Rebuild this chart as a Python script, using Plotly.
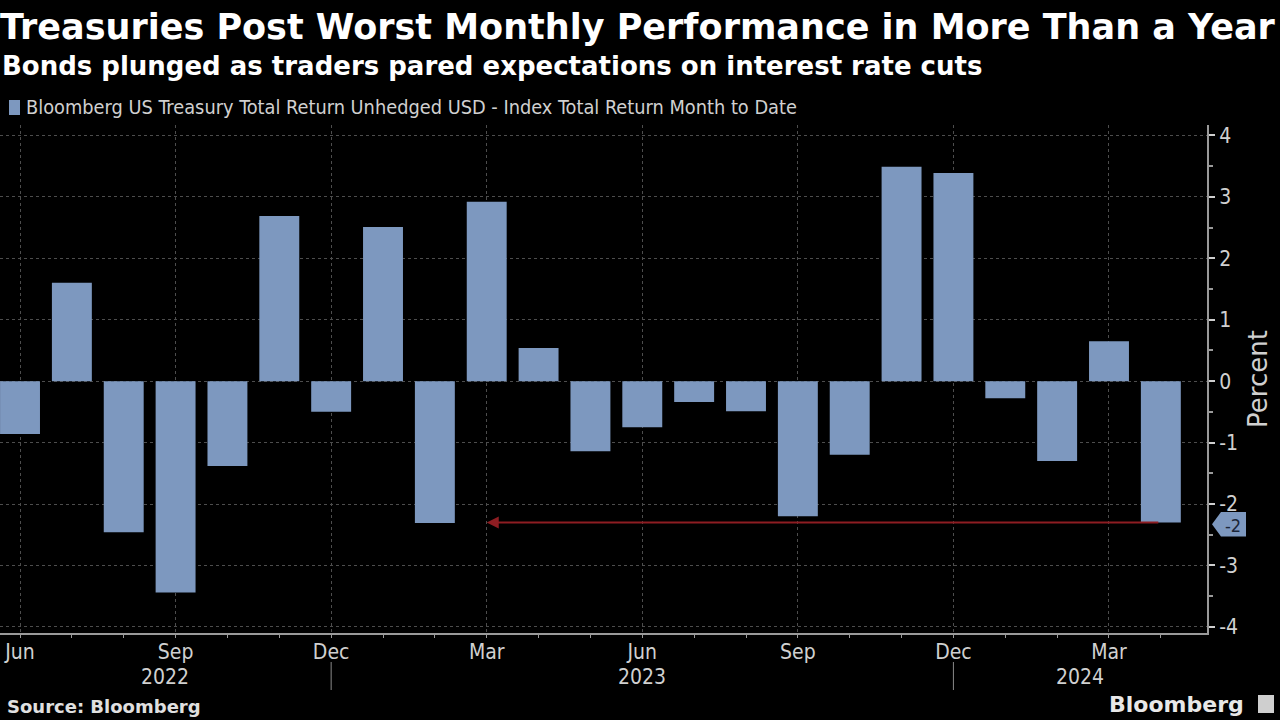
import plotly.graph_objects as go

months = ["Jun 2022", "Jul 2022", "Aug 2022", "Sep 2022", "Oct 2022", "Nov 2022", "Dec 2022",
          "Jan 2023", "Feb 2023", "Mar 2023", "Apr 2023", "May 2023", "Jun 2023", "Jul 2023",
          "Aug 2023", "Sep 2023", "Oct 2023", "Nov 2023", "Dec 2023", "Jan 2024", "Feb 2024",
          "Mar 2024", "Apr 2024"]
returns = [-0.86, 1.60, -2.46, -3.44, -1.38, 2.69, -0.50, 2.51, -2.31, 2.92, 0.54, -1.14,
           -0.75, -0.34, -0.49, -2.20, -1.20, 3.49, 3.39, -0.28, -1.30, 0.65, -2.30]
quarter_labels = ["Jun", "Sep", "Dec", "Mar", "Jun", "Sep", "Dec", "Mar"]
quarter_idx = [0, 3, 6, 9, 12, 15, 18, 21]
year_labels = ["2022", "2023", "2024"]
year_pos = [2.8, 12.0, 20.45]
year_sep = [6, 18]
y_ticks = [-4, -3, -2, -1, 0, 1, 2, 3, 4]

BAR = "#7d98bf"
TXT = "#d0d0d0"
GRID = "#4d4d4d"
FONT = "DejaVu Sans"
CFONT = "DejaVu Sans Condensed"

x = list(range(len(months)))
fig = go.Figure()
fig.add_trace(go.Bar(x=x, y=returns, marker=dict(color=BAR, line=dict(width=0)),
                     width=0.77, hovertext=months, showlegend=False))

fig.update_layout(
    width=1280, height=720,
    paper_bgcolor="black", plot_bgcolor="black",
    margin=dict(l=0, r=73, t=125, b=87),
    font=dict(family=CFONT, color=TXT, size=19),
    xaxis=dict(range=[-0.386, 22.89], tickvals=quarter_idx, ticktext=quarter_labels,
               showgrid=True, gridcolor=GRID, griddash="dot", gridwidth=1,
               showline=True, linecolor="#9a9a9a", linewidth=2,
               ticks="outside", ticklen=3, tickcolor="#9a9a9a",
               ticklabelstandoff=-4,
               minor=dict(tick0=0, dtick=1, ticks="outside", ticklen=3, tickcolor="#9a9a9a",
                          showgrid=False),
               tickfont=dict(family=CFONT, size=21, color=TXT), zeroline=False),
    yaxis=dict(range=[-4.1, 4.17], side="right", tickvals=y_ticks,
               ticktext=[str(v) for v in y_ticks],
               showgrid=True, gridcolor=GRID, griddash="dot", gridwidth=1,
               showline=True, linecolor="#9a9a9a", linewidth=2,
               ticks="outside", ticklen=6, tickcolor="#cfcfcf", tickwidth=2,
               minor=dict(tick0=0.5, dtick=1, ticks="outside", ticklen=4, tickcolor="#9a9a9a",
                          showgrid=False),
               tickfont=dict(family=CFONT, size=21, color=TXT), zeroline=False,
               title=dict(text="Percent", font=dict(family=FONT, size=26, color=TXT), standoff=12)),
)

# Title & subtitle
fig.add_annotation(text="<b>Treasuries Post Worst Monthly Performance in More Than a Year</b>",
                   xref="paper", yref="paper", x=0, y=(633 - 5) / 508, xanchor="left", yanchor="top",
                   showarrow=False, font=dict(family=FONT, size=35, color="white"), xshift=-2)
fig.add_annotation(text="<b>Bonds plunged as traders pared expectations on interest rate cuts</b>",
                   xref="paper", yref="paper", x=0, y=(633 - 49) / 508, xanchor="left", yanchor="top",
                   showarrow=False, font=dict(family=FONT, size=26, color="white"))

# Legend
fig.add_shape(type="rect", xref="paper", yref="paper", x0=9 / 1207, x1=20 / 1207,
              y0=(633 - 115) / 508, y1=(633 - 100) / 508, fillcolor=BAR, line=dict(width=0))
fig.add_annotation(text="Bloomberg US Treasury Total Return Unhedged USD - Index Total Return Month to Date",
                   xref="paper", yref="paper", x=24 / 1207, y=(633 - 107) / 508, xanchor="left",
                   yanchor="middle", showarrow=False, font=dict(family=CFONT, size=19.8, color=TXT))

# Year labels and separators
for lbl, pos in zip(year_labels, year_pos):
    fig.add_annotation(text=lbl, xref="x", yref="paper", x=pos, y=(633 - 677) / 508,
                       xanchor="center", yanchor="middle", showarrow=False,
                       font=dict(family=CFONT, size=21, color=TXT))
for s in year_sep:
    fig.add_shape(type="line", xref="x", yref="paper", x0=s, x1=s,
                  y0=(633 - 662) / 508, y1=(633 - 690) / 508, line=dict(color="#8a8a8a", width=1))

# Red arrow from last bar back to Mar 2023
last = returns[-1]
fig.add_annotation(x=9, y=last, ax=22 - 0.02, ay=last, xref="x", yref="y", axref="x", ayref="y",
                   text="", showarrow=True, arrowhead=2, arrowsize=1.2, arrowwidth=2,
                   arrowcolor="#8e1d22")

# Value tag
yl = last
fig.add_shape(type="path", xref="paper", yref="y",
              path=f"M {1212/1207},{yl - 0.03} L {1221/1207},{yl + 0.17} L {1246/1207},{yl + 0.17} "
                   f"L {1246/1207},{yl - 0.23} L {1221/1207},{yl - 0.23} Z",
              fillcolor=BAR, line=dict(width=0))
fig.add_annotation(text=f"{round(last)}", xref="paper", yref="y", x=1233 / 1207, y=yl,
                   xanchor="center", yanchor="middle", yshift=-3,
                   showarrow=False, font=dict(family=CFONT, size=18, color="#1b2638"))

# Footer
fig.add_annotation(text="<b>Source: Bloomberg</b>", xref="paper", yref="paper", x=5 / 1207,
                   y=(633 - 706) / 508, xanchor="left", yanchor="middle", showarrow=False,
                   font=dict(family=FONT, size=18, color="#e0e0e0"))
fig.add_annotation(text="<b>Bloomberg</b>", xref="paper", yref="paper", x=1246 / 1207,
                   y=(633 - 704) / 508, xanchor="right", yanchor="middle", showarrow=False,
                   font=dict(family=FONT, size=22, color="#e8e8e8"))
fig.add_shape(type="rect", xref="paper", yref="paper", x0=1258 / 1207, x1=1274 / 1207,
              y0=(633 - 713) / 508, y1=(633 - 695) / 508, fillcolor="#cfcfcf",
              line=dict(width=0))

fig.write_html("out.html")
